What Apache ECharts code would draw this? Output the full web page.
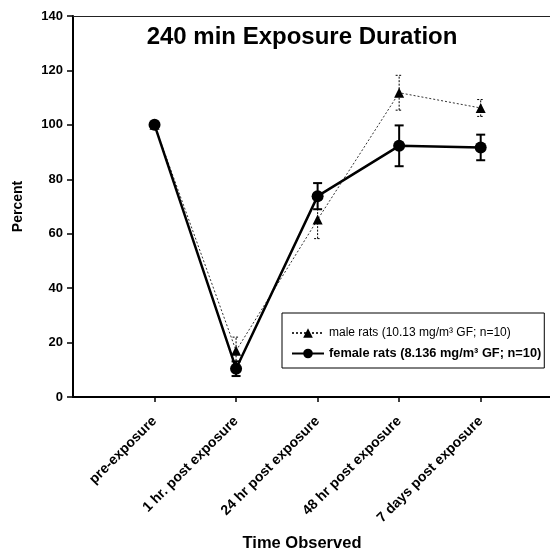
<!DOCTYPE html>
<html>
<head>
<meta charset="utf-8">
<script src="https://cdn.jsdelivr.net/npm/echarts@6/dist/echarts.min.js"></script>
<style>
  html, body { margin: 0; padding: 0; background: #fff; }
  #chart { width: 550px; height: 552px; }
</style>
</head>
<body>
<div id="chart"></div>
<script>
// Observation time points
const categories = ['pre-exposure', '1 hr. post exposure', '24 hr post exposure', '48 hr post exposure', '7 days post exposure'];

// Mean percent and error (± SE) for each group
const maleName = 'male rats (10.13 mg/m³ GF; n=10)';
const maleMean = [100, 17, 65.2, 111.8, 106.2];
const maleErr = [0, 5, 7, 6.4, 3.1];

const femaleName = 'female rats (8.136 mg/m³ GF; n=10)';
const femaleMean = [100, 10.4, 73.8, 92.3, 91.7];
const femaleErr = [0, 2.7, 4.8, 7.5, 4.7];

const yTicks = [0, 20, 40, 60, 80, 100, 120, 140];
const xPositions = categories.map((c, i) => i + 1);

const FONT = '"Liberation Sans", Arial, sans-serif';

const chart = echarts.init(document.getElementById('chart'), null, { renderer: 'canvas' });

function errorBars(means, errs, lineWidth, dash, capHalf) {
  return {
    type: 'custom',
    silent: true,
    z: 1,
    data: means.map((m, i) => [i + 1, m - errs[i], m + errs[i], errs[i]]),
    renderItem: function (params, api) {
      if (api.value(3) === 0) return null;
      const x = api.value(0);
      const lo = api.coord([x, api.value(1)]);
      const hi = api.coord([x, api.value(2)]);
      const style = { stroke: '#000', lineWidth: lineWidth, lineDash: dash };
      return {
        type: 'group',
        children: [
          { type: 'line', shape: { x1: lo[0], y1: lo[1], x2: hi[0], y2: hi[1] }, style: style },
          { type: 'line', shape: { x1: lo[0] - capHalf, y1: lo[1], x2: lo[0] + capHalf, y2: lo[1] }, style: style },
          { type: 'line', shape: { x1: hi[0] - capHalf, y1: hi[1], x2: hi[0] + capHalf, y2: hi[1] }, style: style }
        ]
      };
    }
  };
}

const option = {
  backgroundColor: '#fff',
  animation: false,
  grid: { left: 73, top: 16, bottom: 155, right: 0 },
  graphic: [
    {
      type: 'text', x: 302, y: 25,
      style: { text: '240 min Exposure Duration', font: 'bold 24px ' + FONT, fill: '#000', align: 'center', verticalAlign: 'top' }
    },
    {
      type: 'text', x: 302, y: 535,
      style: { text: 'Time Observed', font: 'bold 16.5px ' + FONT, fill: '#000', align: 'center', verticalAlign: 'top' }
    }
  ],
  legend: {
    orient: 'vertical',
    left: 282, top: 313,
    padding: [14, 3, 8, 9],
    itemGap: 8,
    itemWidth: 32,
    itemHeight: 12,
    borderColor: '#000',
    borderWidth: 1,
    backgroundColor: '#fff',
    data: [maleName, femaleName],
    formatter: function (name) {
      return name === femaleName ? '{b|' + name + '}' : '{n|' + name + '}';
    },
    textStyle: {
      fontFamily: FONT,
      fontSize: 12,
      color: '#000',
      rich: {
        n: { fontFamily: FONT, fontSize: 12, color: '#000' },
        b: { fontFamily: FONT, fontSize: 12.8, fontWeight: 'bold', color: '#000' }
      }
    }
  },
  xAxis: [
    {
      type: 'value',
      min: 0, max: 5.85,
      splitLine: { show: false },
      axisLine: { show: true, onZero: false, lineStyle: { color: '#000', width: 2 } },
      axisTick: { show: true, length: 5, customValues: xPositions, lineStyle: { color: '#000', width: 1.5 } },
      axisLabel: {
        rotate: 45,
        margin: 22,
        fontFamily: FONT,
        fontSize: 14,
        fontWeight: 'bold',
        color: '#000',
        customValues: xPositions,
        formatter: function (v) { return categories[Math.round(v) - 1] || ''; }
      }
    },
    {
      // frame line along the top of the plot
      type: 'value',
      position: 'top',
      min: 0, max: 5.85,
      splitLine: { show: false },
      axisLine: { show: true, onZero: false, lineStyle: { color: '#222', width: 1 } },
      axisTick: { show: false },
      axisLabel: { show: false }
    }
  ],
  yAxis: {
    type: 'value',
    min: 0, max: 140, interval: 20,
    name: 'Percent',
    nameLocation: 'middle',
    nameGap: 48,
    nameRotate: 90,
    nameTextStyle: { fontFamily: FONT, fontSize: 14, fontWeight: 'bold', color: '#000' },
    splitLine: { show: false },
    axisLine: { show: true, lineStyle: { color: '#000', width: 2 } },
    axisTick: { show: true, length: 6, lineStyle: { color: '#000', width: 1.5 } },
    axisLabel: {
      margin: 10,
      fontFamily: FONT,
      fontSize: 13,
      fontWeight: 'bold',
      color: '#000',
      formatter: function (v) { return yTicks.indexOf(v) >= 0 ? String(v) : ''; }
    }
  },
  series: [
    errorBars(maleMean, maleErr, 1, [2, 1.5], 3.5),
    errorBars(femaleMean, femaleErr, 2, null, 4.5),
    {
      name: maleName,
      type: 'line',
      z: 3,
      data: maleMean.map((v, i) => [i + 1, v]),
      symbol: 'triangle',
      symbolSize: 10,
      itemStyle: { color: '#000' },
      lineStyle: { color: '#333', width: 1, type: [2, 2] }
    },
    {
      name: femaleName,
      type: 'line',
      z: 4,
      data: femaleMean.map((v, i) => [i + 1, v]),
      symbol: 'circle',
      symbolSize: 12,
      itemStyle: { color: '#000' },
      lineStyle: { color: '#000', width: 2.5 }
    }
  ]
};

chart.setOption(option);
</script>
</body>
</html>
